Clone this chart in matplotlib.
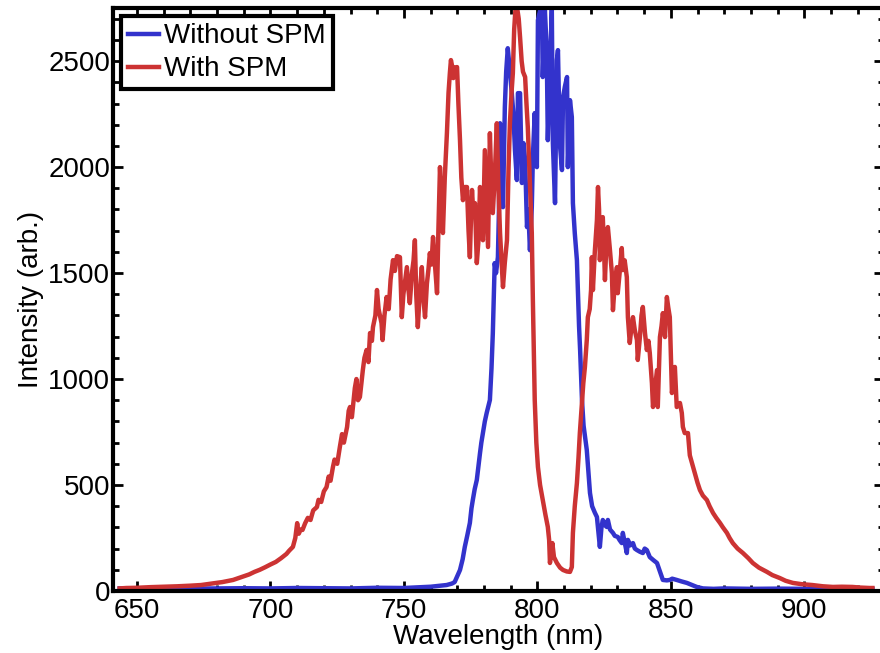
import matplotlib
matplotlib.use('Agg')
import matplotlib.pyplot as plt
from matplotlib.ticker import MultipleLocator

plt.rcParams['font.family'] = ['Liberation Sans', 'DejaVu Sans']

# spectrum with SPM (red), wavelength in nm / intensity
red_wl = [643.5, 646, 650, 655, 660, 665, 670, 674, 678, 682, 686, 689, 692, 694, 696, 698, 700, 702,
          704, 706, 707, 708.4, 709.3, 710, 710.6, 711.3, 712, 713, 714, 715, 716, 717.4, 718, 719, 720,
          721, 721.8, 722.5, 723.4, 724, 725, 726, 726.8, 727.5, 728.7, 729.3, 729.8, 730.5, 731.6,
          732.2, 732.8, 733.5, 734.6, 735.2, 736, 736.7, 737.3, 738, 738.4, 739.3, 739.9, 740.5, 741.6,
          742, 742.7, 743.5, 744.3, 745, 745.9, 746.6, 747.4, 748.5, 749.2, 749.8, 750.4, 751.1, 751.7,
          752.2, 753, 753.6, 754.1, 754.6, 755.2, 755.9, 756.7, 757.3, 757.9, 758.6, 759.2, 759.7,
          760.3, 760.9, 761.5, 762.4, 762.9, 763.5, 764, 764.6, 765.3, 766.1, 766.7, 767.2, 767.6, 768,
          768.5, 769, 769.9, 770.4, 771, 771.5, 772.1, 772.8, 773.6, 774.2, 774.7, 775.1, 775.5, 776,
          776.6, 777.3, 777.9, 778.5, 779, 779.6, 780.3, 780.9, 781.5, 782.2, 782.7, 783.3, 784, 784.8,
          785.4, 786, 786.6, 787.1, 787.8, 788.6, 789.2, 789.7, 790.3, 790.8, 791.3, 791.8, 792.3, 793,
          793.5, 794.1, 794.6, 795.4, 795.9, 796.4, 797.2, 797.6, 797.9, 798.3, 798.7, 799, 799.6,
          800.2, 801, 802, 803, 803.9, 804.4, 804.7, 805.2, 805.6, 806.2, 807.3, 808.5, 809.6, 811,
          812.2, 812.9, 813.3, 814, 814.8, 815.4, 815.9, 816.7, 817.2, 817.8, 818.5, 818.9, 819.6,
          820.1, 820.4, 820.8, 821.5, 822.3, 822.7, 823.1, 823.4, 824, 824.5, 825, 825.3, 825.9, 826.4,
          827.1, 827.9, 828.3, 829, 829.8, 830.1, 830.8, 831.6, 832, 832.7, 833.5, 833.9, 834.6, 835.2,
          835.8, 836.5, 837.3, 837.6, 838.4, 839, 839.5, 840.3, 841, 841.6, 842.1, 842.9, 843.3, 844,
          844.8, 845.1, 845.9, 846.5, 847, 847.4, 847.8, 848.5, 849, 849.6, 850.4, 851, 851.5, 852.2,
          853.4, 854.1, 854.5, 855.2, 856.4, 857.1, 858, 859, 860, 860.9, 862, 863.5, 864.5, 865.8, 867,
          868.4, 869.5, 871, 872, 873.2, 875, 877, 879, 880.7, 883, 886, 888, 890.8, 893, 895.7, 899,
          903, 907, 910.7, 914, 918, 921, 924.5, 925.5]
red_int = [12, 14, 15, 18, 20, 22, 25, 28, 35, 42, 52, 65, 78, 90, 100, 112, 125, 137,
           155, 175, 190, 208, 250, 320, 270, 290, 288, 320, 345, 335, 380, 396, 430, 420, 470,
           490, 540, 520, 585, 620, 600, 680, 740, 700, 774, 850, 868, 820, 957,
           1000, 900, 915, 1042, 1100, 1137, 1080, 1217, 1180, 1245, 1300, 1420, 1330, 1264,
           1184, 1300, 1387, 1330, 1470, 1561, 1510, 1580, 1575, 1292, 1400, 1460, 1528, 1420,
           1358, 1500, 1560, 1655, 1400, 1245, 1400, 1528, 1380, 1292, 1450, 1520, 1594,
           1540, 1670, 1560, 1405, 1700, 2000, 1850, 1689, 1950, 2160, 2350, 2443, 2505, 2480,
           2420, 2470, 2472, 2300, 2127, 1950, 1844, 1906, 1906, 1700, 1575, 1750, 1892, 1780,
           1830, 1547, 1650, 1906, 1750, 1655, 2080, 1850, 1623, 2160, 1950, 1783, 1950, 2207,
           1900, 1689, 1550, 1434, 1550, 1655, 2000, 2207, 2350, 2443, 2650, 2750, 2760, 2700,
           2613, 2500, 2450, 2425, 2300, 2189, 1925, 1800, 1689, 1373, 1100, 901, 700,
           585, 500, 429, 360, 302, 240, 132, 180, 226, 160, 132, 110, 99, 92,
           90, 113, 274, 400, 509, 630, 745, 887, 980, 1057, 1184, 1292, 1330,
           1420, 1575, 1420, 1600, 1750, 1906, 1800, 1561, 1700, 1764, 1600, 1467, 1650, 1717,
           1620, 1500, 1325, 1450, 1528, 1405, 1500, 1618, 1514, 1560, 1481, 1292, 1170, 1240,
           1292, 1230, 1184, 1090, 1198, 1300, 1340, 1217, 1137, 1180, 1123, 981, 868, 950,
           1042, 868, 1198, 1250, 1311, 1260, 1198, 1387, 1340, 1292, 934, 1000, 1057, 868,
           887, 840, 774, 745, 745, 640, 600, 557, 510, 476, 450, 429, 400, 368, 345,
           321, 300, 274, 250, 226, 200, 179, 155, 132, 110, 90, 75, 61, 48, 38, 32,
           28, 22, 19, 20, 19, 16, 14, 14]

# spectrum without SPM (blue)
blue_wl = [643.5, 650, 660, 670, 680, 690, 700, 710, 720, 730, 740, 750, 760, 764, 766, 768, 769, 770,
           771, 772, 772.8, 773.7, 774.7, 775.3, 775.8, 776.5, 777.3, 778, 778.5, 779, 779.6, 780.3,
           781, 781.6, 782.2, 782.8, 783.3, 783.7, 784, 784.5, 785.2, 785.6, 786, 786.5, 787.1, 787.8,
           788.3, 788.9, 789.5, 790.4, 791, 791.6, 792.3, 792.7, 793.5, 794.2, 794.8, 795.4, 796.1,
           796.6, 797.2, 797.9, 798.3, 799, 799.8, 800.2, 801, 801.7, 802, 802.8, 803.5, 803.9, 804.7,
           805.4, 805.8, 806.6, 807.3, 807.7, 808.4, 809.2, 809.6, 810.3, 811.1, 811.4, 812.2, 812.9,
           813.3, 814, 814.8, 815.2, 815.6, 816, 816.7, 817.3, 818.5, 819.7, 820.5, 821.5, 822.3, 823,
           823.4, 824, 824.5, 825.3, 826, 826.4, 827.2, 828.3, 829, 830.1, 830.8, 831.6, 832, 832.7,
           833.5, 833.9, 834.8, 835.8, 836.5, 837.3, 838.4, 839.5, 840.2, 841, 842.1, 843.5, 844.8,
           845.8, 847, 848.5, 849.6, 850.5, 852.2, 854, 856, 858, 859.7, 862, 866, 870, 880, 890, 900,
           910, 920, 925.5]
blue_int = [12, 10, 12, 11, 12, 13, 12, 14, 13, 12, 15, 14, 20, 25, 28, 35, 42, 70,
            99, 150, 208, 260, 321, 390, 429, 480, 524, 600, 651, 700, 745, 800,
            840, 870, 901, 1050, 1217, 1405, 1547, 1500, 1575, 1800, 2207, 1950, 1811, 2283,
            2450, 2561, 2480, 2349, 2250, 2080, 1939, 2349, 2349, 1925, 2113, 2033, 1717,
            1800, 1608, 1811, 2047, 2255, 2000, 2693, 2740, 2726, 2425, 2741, 2552, 2127, 2472,
            2741, 2113, 1830, 2505, 2552, 2113, 1986, 2330, 2380, 2425, 2000, 2316, 2236,
            1830, 1689, 1561, 1405, 1250, 1137, 901, 780, 665, 462, 400, 370, 349, 260,
            208, 300, 335, 310, 302, 335, 290, 274, 260, 255, 240, 226, 274, 230,
            179, 241, 215, 226, 200, 193, 185, 179, 200, 193, 160, 145, 132,
            95, 52, 50, 52, 58, 52, 45, 38, 28, 19, 12, 10, 12, 10, 11, 10,
            11, 12, 10]

fig = plt.figure(figsize=(8.8, 6.53), dpi=100)
ax = fig.add_axes([0.1284, 0.095, 0.876, 0.8925])

ax.plot(blue_wl, blue_int, color='#3333cc', lw=3.2, label='Without SPM')
ax.plot(red_wl, red_int, color='#cc3333', lw=3.2, label='With SPM')

ax.set_xlim(641, 929.8)
ax.set_ylim(0, 2750)
ax.set_xticks([650, 700, 750, 800, 850, 900])
ax.set_yticks([0, 500, 1000, 1500, 2000, 2500])
ax.xaxis.set_minor_locator(MultipleLocator(10))
ax.yaxis.set_minor_locator(MultipleLocator(100))
ax.tick_params(which='both', direction='in', top=True, right=True, width=2, labelsize=20)
ax.tick_params(which='major', length=7)
ax.tick_params(axis='x', which='major', pad=5)
ax.tick_params(axis='y', which='major', pad=2)
ax.tick_params(which='minor', length=4)
for s in ax.spines.values():
    s.set_linewidth(3)

ax.set_xlabel('Wavelength (nm)', fontsize=20, labelpad=0)
ax.set_ylabel('Intensity (arb.)', fontsize=20, labelpad=3)

leg = ax.legend(loc='upper left', fontsize=20, frameon=True, fancybox=False, edgecolor='black',
                framealpha=1, handlelength=1.1, handletextpad=0.2, borderpad=0.25,
                labelspacing=0.25, borderaxespad=0.3)
leg.get_frame().set_linewidth(3)

fig.savefig('out.png', dpi=100)
